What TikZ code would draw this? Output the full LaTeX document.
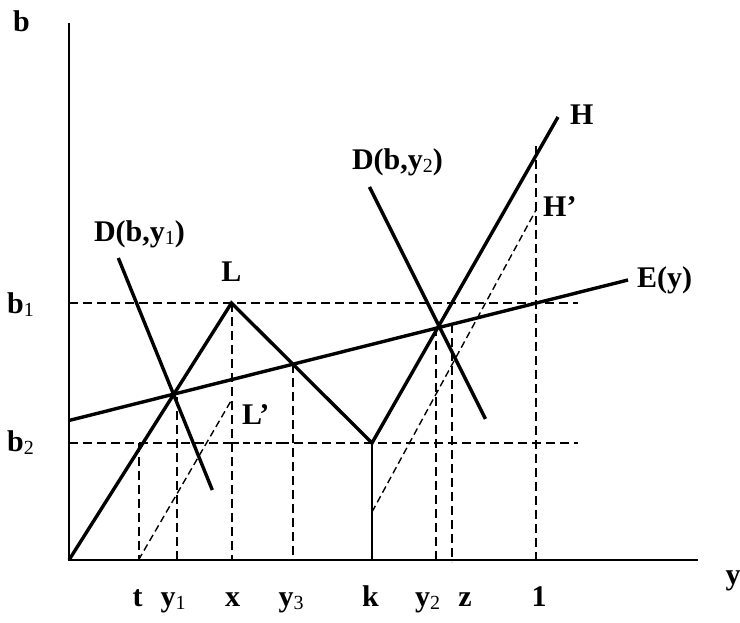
\documentclass[tikz,border=0pt]{standalone}
\usepackage{fontspec}
\setmainfont{Liberation Serif}
\newcommand{\sbs}[1]{\raisebox{-3pt}{\fontsize{20}{22}\selectfont\mdseries #1}}
\begin{document}
\begin{tikzpicture}[x=1pt,y=1pt,
  lbl/.style={inner sep=0pt,font=\fontsize{30}{34}\selectfont\bfseries},
  axis/.style={line width=2.6pt},
  curve/.style={line width=3.4pt},
  guide/.style={line width=2pt,dash pattern=on 9pt off 5pt},
  thinguide/.style={line width=1.4pt,dash pattern=on 7pt off 4pt}]
\path[use as bounding box] (0,0) rectangle (740,623);
% key points
\coordinate (O) at (69,63);
\coordinate (btop) at (69,600);
\coordinate (yend) at (698,63);
\coordinate (Lpk) at (231.5,320);
\coordinate (kpt) at (372,180);
\coordinate (kfoot) at (372,63);
\coordinate (Hend) at (558,506);
\coordinate (Ea) at (69,202.5);
\coordinate (Eb) at (628,343);
\coordinate (Da) at (118.3,365);
\coordinate (Db) at (212.3,133);
\coordinate (Dc) at (369.5,436);
\coordinate (Dd) at (485.5,204);
% guide lines
\draw[guide] (69,320) -- (578,320);
\draw[guide] (69,180) -- (231.5,180);
\draw[thinguide] (231.5,180) -- (280,180);
\draw[guide] (280,180) -- (578,180);
\draw[guide] (138.5,180) -- (138.5,63);
\draw[guide] (176.5,226) -- (176.5,63);
\draw[guide] (Lpk) -- (231.5,63);
\draw[guide] (292.5,259) -- (292.5,63);
\draw[guide] (436,296) -- (436,63);
\draw[guide] (452,299) -- (452,61);
\draw[guide] (536,477) -- (536,63);
\draw[thinguide] (138.5,63) -- (231.5,223);
\draw[thinguide] (372,111) -- (536,413);
\draw[line width=1.4pt] (kpt) -- (kfoot);
% axes
\draw[axis] (btop) -- (O) -- (yend);
% curves
\draw[curve,line join=miter] (O) -- (Lpk) -- (kpt) -- (Hend);
\draw[curve] (Ea) -- (Eb);
\draw[curve] (Da) -- (Db);
\draw[curve] (Dc) -- (Dd);
% labels
\node[lbl,anchor=base] (lb) at (21.5,591) {b};
\node[lbl,anchor=base] (ly) at (733,38) {y};
\node[lbl,anchor=base west] (lb1) at (7,309) {b\sbs{1}};
\node[lbl,anchor=base west] (lb2) at (7,171) {b\sbs{2}};
\node[lbl,anchor=base] (lD1) at (139.5,381) {D(b,y\sbs{1})};
\node[lbl,anchor=base] (lD2) at (397.5,453) {D(b,y\sbs{2})};
\node[lbl,anchor=base] (lL) at (231.5,341) {L};
\node[lbl,anchor=base west] (lLp) at (242,198) {L’};
\node[lbl,anchor=base west] (lH) at (570,498) {H};
\node[lbl,anchor=base west] (lHp) at (543,406) {H’};
\node[lbl,anchor=base west] (lE) at (637,335) {E(y)};
\node[lbl,anchor=base] (lt) at (137.5,16) {t};
\node[lbl,anchor=base] (ly1) at (173,16) {y\sbs{1}};
\node[lbl,anchor=base] (lx) at (232.5,16) {x};
\node[lbl,anchor=base] (ly3) at (291,16) {y\sbs{3}};
\node[lbl,anchor=base] (lk) at (370.5,16) {k};
\node[lbl,anchor=base] (ly2) at (427.5,16) {y\sbs{2}};
\node[lbl,anchor=base] (lz) at (465,16) {z};
\node[lbl,anchor=base] (l1) at (539,16) {1};
\end{tikzpicture}
\end{document}
